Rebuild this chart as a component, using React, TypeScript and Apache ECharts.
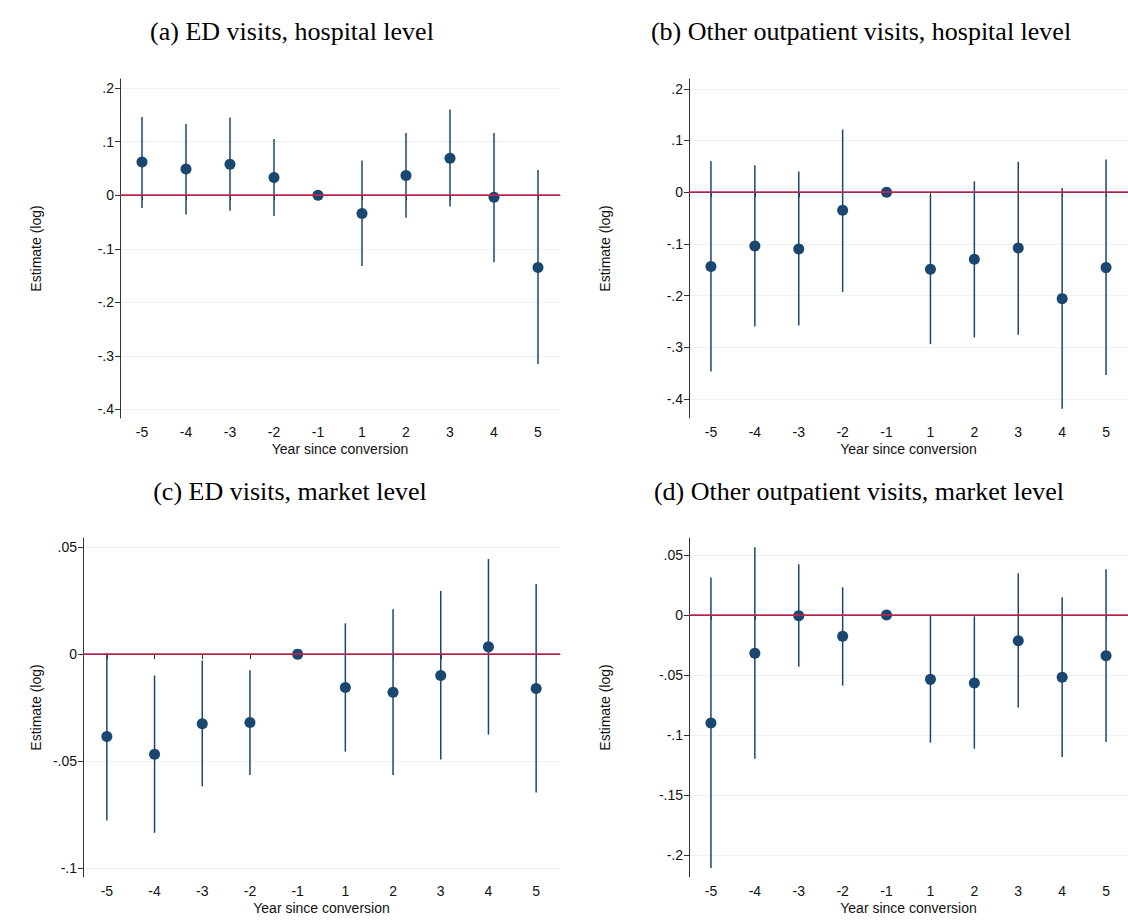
import React, { useEffect, useRef } from "react";
import * as echarts from "echarts";

const categories = ["-5", "-4", "-3", "-2", "-1", "1", "2", "3", "4", "5"];

// (a) ED visits, hospital level
const estA = [0.062, 0.049, 0.058, 0.033, 0, -0.034, 0.037, 0.069, -0.004, -0.135];
const loA = [-0.024, -0.036, -0.029, -0.039, 0, -0.132, -0.042, -0.021, -0.125, -0.315];
const hiA = [0.146, 0.133, 0.145, 0.105, 0, 0.065, 0.116, 0.16, 0.116, 0.047];

// (b) Other outpatient visits, hospital level
const estB = [-0.144, -0.104, -0.11, -0.035, 0, -0.149, -0.13, -0.108, -0.206, -0.146];
const loB = [-0.347, -0.26, -0.258, -0.193, 0, -0.294, -0.281, -0.276, -0.419, -0.354];
const hiB = [0.06, 0.052, 0.04, 0.121, 0, -0.005, 0.021, 0.059, 0.008, 0.063];

// (c) ED visits, market level
const estC = [-0.0385, -0.0468, -0.0325, -0.032, 0, -0.0156, -0.0178, -0.01, 0.0034, -0.0161];
const loC = [-0.0778, -0.0835, -0.0618, -0.0565, 0, -0.0456, -0.0565, -0.0493, -0.0376, -0.0647];
const hiC = [0.0005, -0.01, -0.003, -0.0075, 0, 0.0144, 0.021, 0.0295, 0.0445, 0.0328];

// (d) Other outpatient visits, market level
const estD = [-0.0899, -0.0319, -0.0006, -0.0178, 0, -0.0536, -0.0566, -0.0214, -0.0519, -0.0339];
const loD = [-0.2106, -0.1196, -0.043, -0.0588, 0, -0.1063, -0.1113, -0.0771, -0.1182, -0.1057];
const hiD = [0.0311, 0.0563, 0.0422, 0.023, 0, -0.0008, -0.0019, 0.0347, 0.0147, 0.038];

const ticksAB = [-0.4, -0.3, -0.2, -0.1, 0, 0.1, 0.2];
const ticksC = [-0.1, -0.05, 0, 0.05];
const ticksD = [-0.2, -0.15, -0.1, -0.05, 0, 0.05];

const titles = [
  "(a) ED visits, hospital level",
  "(b) Other outpatient visits, hospital level",
  "(c) ED visits, market level",
  "(d) Other outpatient visits, market level",
];

const NAVY = "#1a476f";
const RED = "#cf2553";
const GRID = "#eaf2f3";
const AXIS = "#333333";

export default function App() {
  const ref = useRef<HTMLDivElement>(null);

  useEffect(() => {
    if (!ref.current) return;
    const chart = echarts.init(ref.current, null, { renderer: "svg" });

    const panels = [
      { est: estA, lo: loA, hi: hiA, ticks: ticksAB, min: -0.416, max: 0.217,
        grid: { left: 120, top: 79, width: 440, height: 339 }, nameGap: 77,
        title: { x: 292, y: 31 } },
      { est: estB, lo: loB, hi: hiB, ticks: ticksAB, min: -0.437, max: 0.219,
        grid: { left: 689, top: 79, width: 439, height: 339 }, nameGap: 77,
        title: { x: 861, y: 31 } },
      { est: estC, lo: loC, hi: hiC, ticks: ticksC, min: -0.1042, max: 0.0543,
        grid: { left: 83, top: 538, width: 477, height: 339 }, nameGap: 40,
        title: { x: 290, y: 491 } },
      { est: estD, lo: loD, hi: hiD, ticks: ticksD, min: -0.218, max: 0.064,
        grid: { left: 689, top: 538, width: 439, height: 339 }, nameGap: 77,
        title: { x: 859, y: 491 } },
    ];

    const fmt = (v: number) => String(v).replace("0.", ".");

    const option: any = {
      animation: false,
      backgroundColor: "#ffffff",
      grid: panels.map((p) => ({ ...p.grid, containLabel: false })),
      xAxis: panels.map((p, i) => ({
        type: "category",
        gridIndex: i,
        data: categories,
        boundaryGap: true,
        name: "Year since conversion",
        nameLocation: "middle",
        nameGap: 24,
        nameTextStyle: { fontFamily: "Liberation Sans", fontSize: 14, color: "#111" },
        axisLine: { show: true, lineStyle: { color: AXIS, width: 1 } },
        axisTick: { show: true, alignWithLabel: true, length: 5, lineStyle: { color: AXIS } },
        axisLabel: { fontFamily: "Liberation Sans", fontSize: 14, color: "#111", margin: 7, interval: 0 },
        splitLine: { show: false },
      })),
      yAxis: panels.map((p, i) => ({
        type: "value",
        gridIndex: i,
        min: p.min,
        max: p.max,
        name: "Estimate (log)",
        nameLocation: "middle",
        nameGap: p.nameGap,
        nameTextStyle: { fontFamily: "Liberation Sans", fontSize: 14, color: "#111" },
        axisLine: { show: true, lineStyle: { color: AXIS, width: 1 } },
        axisTick: { show: true, length: 5, customValues: p.ticks, lineStyle: { color: AXIS } },
        axisLabel: {
          fontFamily: "Liberation Sans",
          fontSize: 14,
          color: "#111",
          margin: 6,
          customValues: p.ticks,
          formatter: (v: number) => fmt(v),
        },
        splitLine: { show: true, lineStyle: { color: GRID, width: 1 } },
      })),
      graphic: panels.map((p, i) => ({
        type: "text",
        x: p.title.x,
        y: p.title.y,
        style: {
          text: titles[i],
          font: '26px "Liberation Serif"',
          fill: "#000",
          align: "center",
          verticalAlign: "middle",
        },
      })),
      series: [] as any[],
    };

    panels.forEach((p, i) => {
      option.series.push({
        type: "line",
        xAxisIndex: i,
        yAxisIndex: i,
        data: [],
        z: 1,
        markLine: {
          silent: true,
          symbol: "none",
          label: { show: false },
          lineStyle: { color: RED, width: 1.6, type: "solid" },
          data: [{ yAxis: 0 }],
        },
      });
      option.series.push({
        type: "custom",
        xAxisIndex: i,
        yAxisIndex: i,
        z: 3,
        data: categories
          .map((c, k) => [k, p.lo[k], p.hi[k]])
          .filter((d) => d[1] !== d[2]),
        renderItem: (params: any, api: any) => {
          const a = api.coord([api.value(0), api.value(1)]);
          const b = api.coord([api.value(0), api.value(2)]);
          return {
            type: "line",
            shape: { x1: a[0], y1: a[1], x2: b[0], y2: b[1] },
            style: { stroke: NAVY, lineWidth: 1.5 },
          };
        },
      });
      option.series.push({
        type: "scatter",
        xAxisIndex: i,
        yAxisIndex: i,
        z: 4,
        symbol: "circle",
        symbolSize: 11,
        itemStyle: { color: NAVY, opacity: 1 },
        data: categories.map((c, k) => [k, p.est[k]]),
      });
    });

    chart.setOption(option);
    return () => chart.dispose();
  }, []);

  return (
    <div
      ref={ref}
      style={{ position: "fixed", left: 0, top: 0, width: 1128, height: 920, background: "#fff" }}
    />
  );
}
